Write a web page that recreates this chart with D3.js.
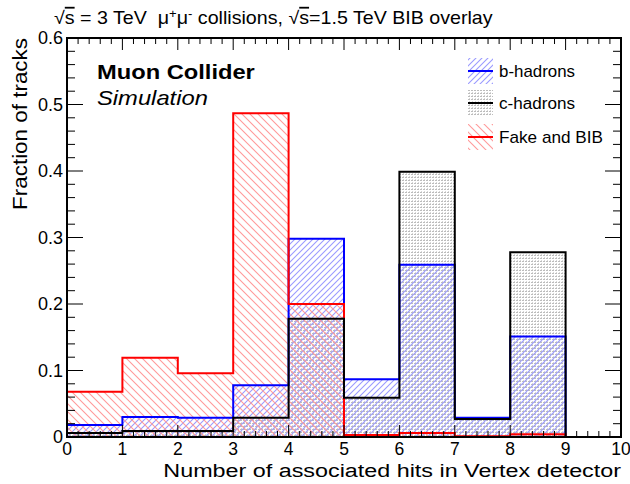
<!DOCTYPE html>
<html>
<head>
<meta charset="utf-8">
<script src="https://cdn.jsdelivr.net/npm/d3@7"></script>
<style>
  html, body { margin: 0; padding: 0; background: #fff; }
  svg { display: block; font-family: "Liberation Sans", Arial, sans-serif; }
</style>
</head>
<body>
<svg id="chart" width="630" height="484"></svg>
<script>
// Bin edges: number of associated hits (0..10)
const binEdges = [0, 1, 2, 3, 4, 5, 6, 7, 8, 9, 10];
// Fraction of tracks per bin
const bHadrons = [0.018, 0.030, 0.029, 0.078, 0.298, 0.087, 0.259, 0.029, 0.151, 0.0];
const cHadrons = [0.006, 0.009, 0.009, 0.029, 0.178, 0.059, 0.399, 0.027, 0.278, 0.0];
const fakeBIB  = [0.068, 0.119, 0.096, 0.487, 0.200, 0.003, 0.006, 0.001, 0.004, 0.0];
const xTicks = [0, 1, 2, 3, 4, 5, 6, 7, 8, 9, 10];
const yTicks = [0, 0.1, 0.2, 0.3, 0.4, 0.5, 0.6];
const seriesNames = ["b-hadrons", "c-hadrons", "Fake and BIB"];

const svg = d3.select("#chart");
const L = 67, R = 621, T = 38, B = 437;
const x = d3.scaleLinear().domain([0, 10]).range([L, R]);
const y = d3.scaleLinear().domain([0, 0.6]).range([B, T]);

// Places a text at (px, py) and stretches it horizontally to the given width
function wideText(parent, px, py, width, size, anchor, rotate) {
  const g = parent.append("g");
  const t = g.append("text").attr("x", 0).attr("y", 0)
    .attr("font-size", size).attr("text-anchor", anchor || "start");
  return {
    text: t,
    fit() {
      const w = t.node().getComputedTextLength();
      const sx = width / w;
      g.attr("transform", `translate(${px},${py})` + (rotate ? ` rotate(${rotate})` : "") + ` scale(${sx},1)`);
    }
  };
}

// Fill patterns
const defs = svg.append("defs");
function hatch(id, color, size, dir) {
  const p = defs.append("pattern").attr("id", id)
    .attr("patternUnits", "userSpaceOnUse").attr("width", size).attr("height", size);
  const d = dir > 0
    ? `M0,${size} L${size},0 M${-size/2},${size/2} L${size/2},${-size/2} M${size/2},${size*1.5} L${size*1.5},${size/2}`
    : `M0,0 L${size},${size} M${-size/2},${size/2} L${size/2},${size*1.5} M${size/2},${-size/2} L${size*1.5},${size/2}`;
  p.append("path").attr("d", d).attr("stroke", color).attr("stroke-width", 1.1).attr("fill", "none");
}
hatch("hatchBlue", "#9a9aff", 6, 1);
hatch("hatchRed", "#ff9a9a", 8, -1);
const dots = defs.append("pattern").attr("id", "dotsGrey")
  .attr("patternUnits", "userSpaceOnUse").attr("width", 3).attr("height", 3);
dots.append("rect").attr("x", 0).attr("y", 0).attr("width", 2).attr("height", 1).attr("fill", "#bcbcbc");
dots.append("rect").attr("x", 1).attr("y", 2).attr("width", 1).attr("height", 1).attr("fill", "#d6d6d6");

function stepPath(vals) {
  let d = `M${x(binEdges[0])},${y(0)}`;
  vals.forEach((v, i) => {
    d += ` L${x(binEdges[i])},${y(v)} L${x(binEdges[i + 1])},${y(v)}`;
  });
  d += ` L${x(binEdges[vals.length])},${y(0)} Z`;
  return d;
}
function stepLine(vals) {
  let d = `M${x(binEdges[0])},${y(0)}`;
  vals.forEach((v, i) => {
    d += ` L${x(binEdges[i])},${y(v)} L${x(binEdges[i + 1])},${y(v)}`;
    const nv = i + 1 < vals.length ? vals[i + 1] : 0;
    d += ` L${x(binEdges[i + 1])},${y(nv)}`;
  });
  return d;
}

const series = [
  { vals: cHadrons, fill: "url(#dotsGrey)", stroke: "#000" },
  { vals: bHadrons, fill: "url(#hatchBlue)", stroke: "#0000ff" },
  { vals: fakeBIB, fill: "url(#hatchRed)", stroke: "#ff0000" }
];
const g = svg.append("g");
series.forEach(s => {
  g.append("path").attr("d", stepPath(s.vals)).attr("fill", s.fill).attr("stroke", "none");
});
// Outlines drawn on top: b-hadrons, fake, c-hadrons
[series[1], series[2], series[0]].forEach(s => {
  g.append("path").attr("d", stepLine(s.vals)).attr("fill", "none")
    .attr("stroke", s.stroke).attr("stroke-width", 2);
});

// Axes with ROOT-style inward ticks on all four sides
const axG = svg.append("g").attr("stroke", "#000").attr("stroke-width", 1);
const xMinor = d3.range(0, 10.0001, 0.2);
xMinor.forEach(v => {
  const major = Math.abs(v - Math.round(v)) < 1e-6;
  const len = major ? 12 : 6;
  axG.append("line").attr("x1", x(v)).attr("x2", x(v)).attr("y1", B).attr("y2", B - len);
  axG.append("line").attr("x1", x(v)).attr("x2", x(v)).attr("y1", T).attr("y2", T + len);
});
const yMinor = d3.range(0, 0.6001, 0.02);
yMinor.forEach(v => {
  const major = Math.abs(v * 10 - Math.round(v * 10)) < 1e-6;
  const len = major ? 16 : 8;
  axG.append("line").attr("x1", L).attr("x2", L + len).attr("y1", y(v)).attr("y2", y(v));
  axG.append("line").attr("x1", R).attr("x2", R - len).attr("y1", y(v)).attr("y2", y(v));
});
svg.append("rect").attr("x", L).attr("y", T).attr("width", R - L).attr("height", B - T)
  .attr("fill", "none").attr("stroke", "#000").attr("stroke-width", 2);

// Tick labels
svg.append("g").selectAll("text").data(xTicks).join("text")
  .attr("x", d => x(d)).attr("y", 455).attr("text-anchor", "middle")
  .attr("font-size", 17.5).text(d => d);
svg.append("g").selectAll("text").data(yTicks).join("text")
  .attr("x", L - 4).attr("y", d => y(d) + 6).attr("text-anchor", "end")
  .attr("font-size", 18).text(d => d === 0 ? "0" : d3.format(".1f")(d));

// Axis titles
const xt = wideText(svg, R, 477, 458, 19, "end");
xt.text.text("Number of associated hits in Vertex detector"); xt.fit();
const yt = wideText(svg, 27, T, 172, 21, "end", -90);
yt.text.text("Fraction of tracks"); yt.fit();

// Header
const tt = wideText(svg, 54, 24, 439, 18, "start");
const title = tt.text;
title.append("tspan").text("√");
title.append("tspan").attr("style", "text-decoration: overline").text("s");
title.append("tspan").text(" = 3 TeV \u00a0μ");
title.append("tspan").attr("dy", -6).attr("font-size", 12).text("+");
title.append("tspan").attr("dy", 6).text("μ");
title.append("tspan").attr("dy", -6).attr("font-size", 12).text("-");
title.append("tspan").attr("dy", 6).text(" collisions, √");
title.append("tspan").attr("style", "text-decoration: overline").text("s");
title.append("tspan").text("=1.5 TeV BIB overlay");
tt.fit();

const mc = wideText(svg, 97, 79, 158, 20, "start");
mc.text.attr("font-weight", "bold").text("Muon Collider"); mc.fit();
const sim = wideText(svg, 97, 105, 111, 20, "start");
sim.text.attr("font-style", "italic").text("Simulation"); sim.fit();

// Legend
const legY = [71, 103, 137];
const legW = [76, 76, 104];
const legendFills = ["url(#hatchBlue)", "url(#dotsGrey)", "url(#hatchRed)"];
const legendStrokes = ["#0000ff", "#000", "#ff0000"];
seriesNames.forEach((name, i) => {
  const lg = svg.append("g");
  lg.append("rect").attr("x", 468).attr("y", legY[i] - 13).attr("width", 25).attr("height", 26)
    .attr("fill", legendFills[i]);
  lg.append("line").attr("x1", 468).attr("x2", 493).attr("y1", legY[i]).attr("y2", legY[i])
    .attr("stroke", legendStrokes[i]).attr("stroke-width", 2);
  const lt = wideText(lg, 499, legY[i] + 6, legW[i], 16, "start");
  lt.text.text(name); lt.fit();
});
</script>
</body>
</html>
